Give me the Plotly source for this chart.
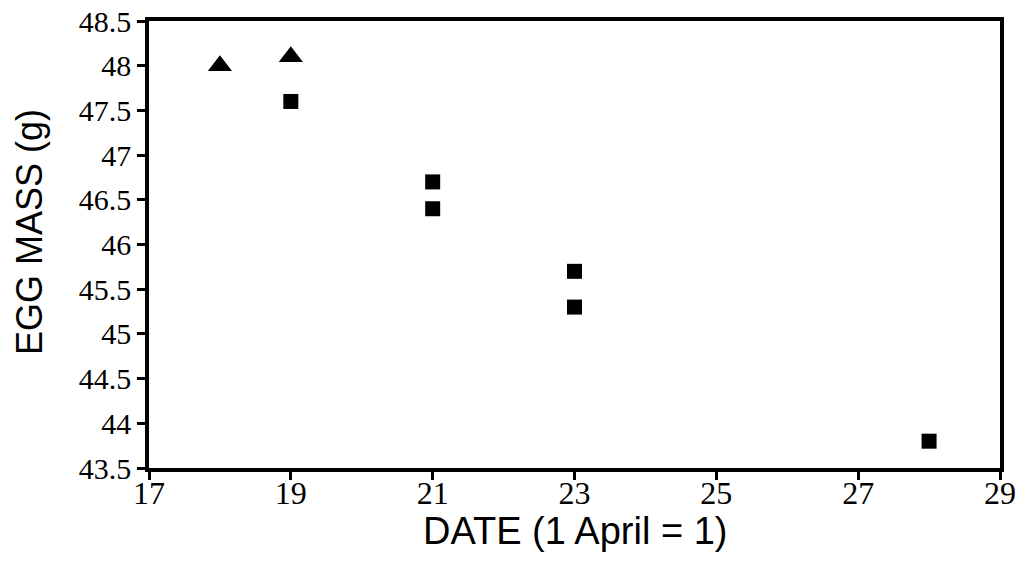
import plotly.graph_objects as go

# Data
tri_date = [18, 19]
tri_mass = [48.0, 48.1]
sq_date = [19, 21, 21, 23, 23, 28]
sq_mass = [47.6, 46.7, 46.4, 45.7, 45.3, 43.8]

x_ticks = [17, 19, 21, 23, 25, 27, 29]
y_ticks = [43.5, 44, 44.5, 45, 45.5, 46, 46.5, 47, 47.5, 48, 48.5]
y_tick_text = ["43.5", "44", "44.5", "45", "45.5", "46", "46.5", "47", "47.5", "48", "48.5"]
x_title = "DATE (1 April = 1)"
y_title = "EGG MASS (g)"

fig = go.Figure()
fig.add_trace(go.Scatter(x=tri_date, y=tri_mass, mode="markers",
                         marker=dict(symbol="triangle-up", size=21, color="black"),
                         showlegend=False))
fig.add_trace(go.Scatter(x=sq_date, y=sq_mass, mode="markers",
                         marker=dict(symbol="square", size=15, color="black"),
                         showlegend=False))

fig.update_layout(
    width=1032, height=567,
    margin=dict(l=149, r=32, t=21, b=99),
    paper_bgcolor="white", plot_bgcolor="white",
    showlegend=False,
    annotations=[
        dict(text=x_title, xref="paper", yref="paper", x=0.5, y=-0.141,
             xanchor="center", yanchor="middle", showarrow=False,
             font=dict(family="Liberation Sans", size=38, color="black")),
        dict(text=y_title, xref="paper", yref="paper", x=-0.1398, y=0.528,
             xanchor="center", yanchor="middle", showarrow=False, textangle=-90,
             font=dict(family="Liberation Sans", size=36, color="black")),
    ],
)
fig.update_xaxes(
    automargin=False,
    range=[17, 29], tickvals=x_ticks, ticktext=[str(v) for v in x_ticks],
    showgrid=False, zeroline=False,
    showline=True, linecolor="black", linewidth=3.5, mirror=True,
    ticks="outside", ticklen=8, tickwidth=2.5, tickcolor="black",
    ticklabelstandoff=-14,
    tickfont=dict(family="Liberation Serif", size=32, color="black"),
)
fig.update_yaxes(
    automargin=False,
    range=[43.5, 48.5], tickvals=y_ticks, ticktext=y_tick_text,
    showgrid=False, zeroline=False,
    showline=True, linecolor="black", linewidth=3.5, mirror=True,
    ticks="outside", ticklen=8, tickwidth=2.5, tickcolor="black",
    tickfont=dict(family="Liberation Serif", size=30, color="black"),
)

fig.write_html("out.html", config={"displayModeBar": False},
               post_script="document.body.style.margin='0';document.body.style.overflow='hidden';")
